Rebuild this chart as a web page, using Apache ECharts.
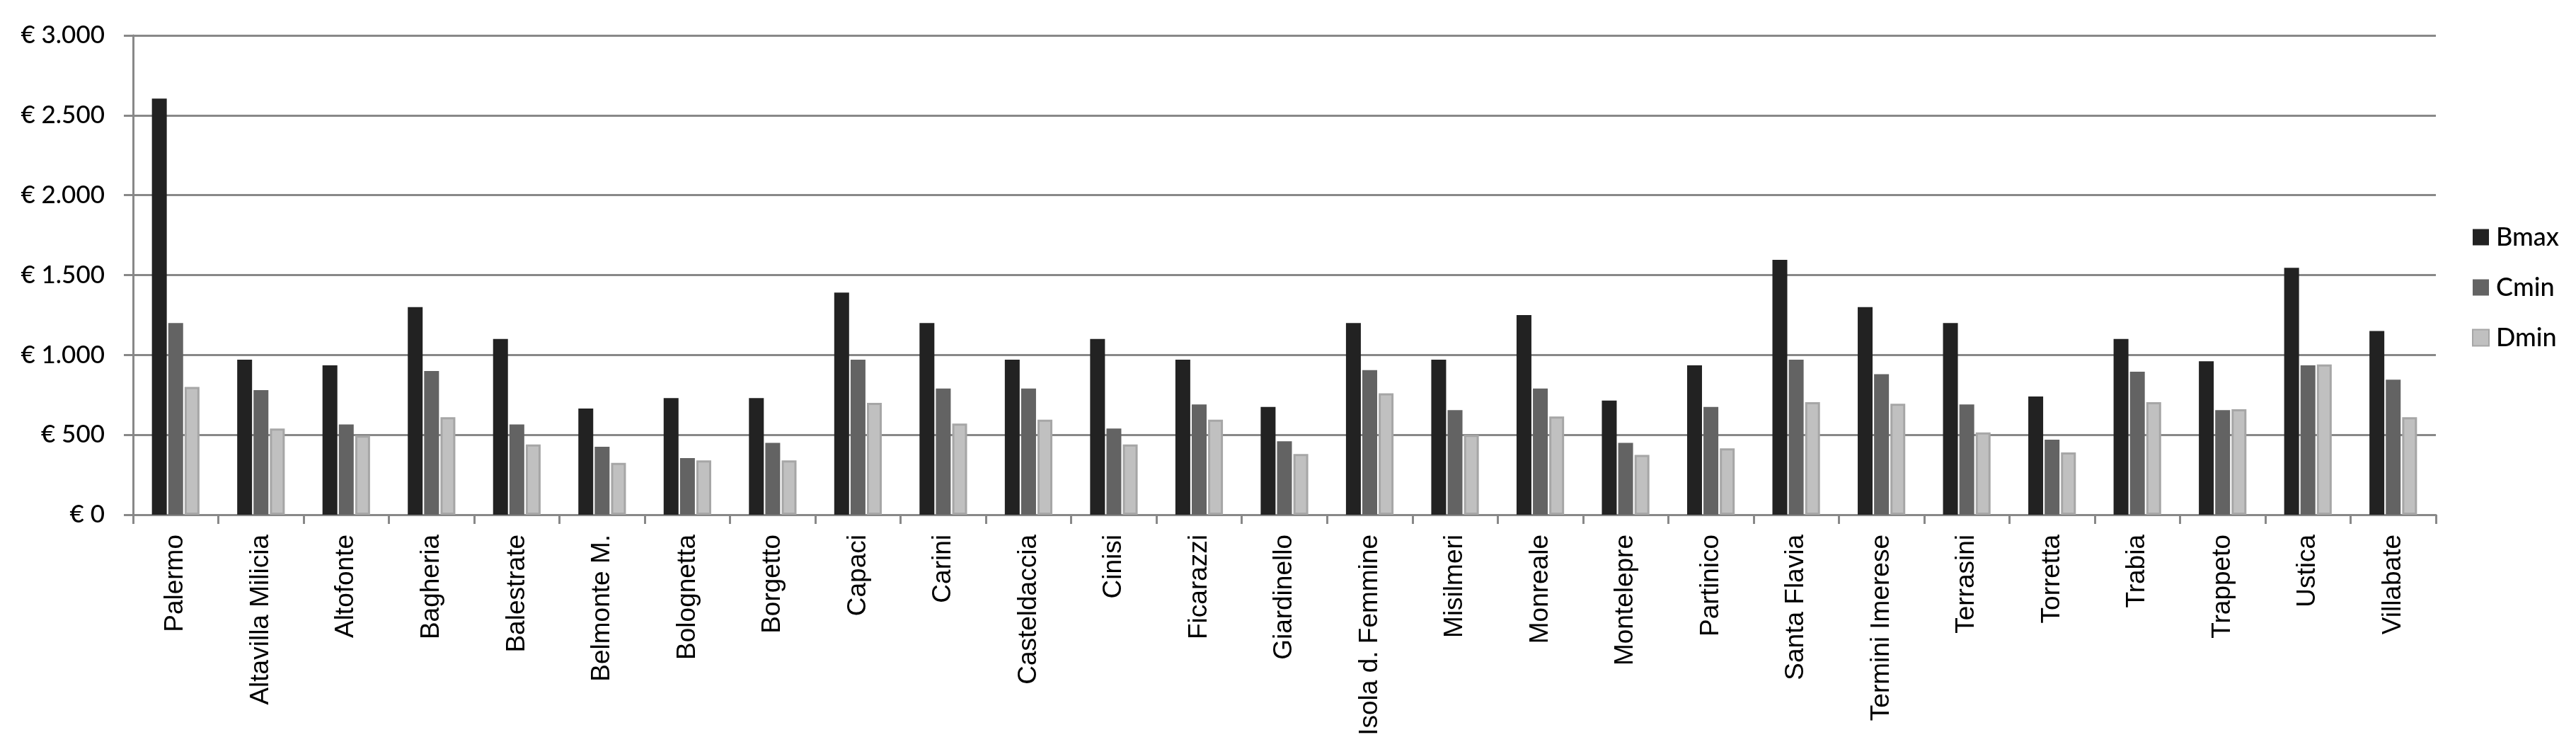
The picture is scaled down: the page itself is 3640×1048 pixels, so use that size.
<!DOCTYPE html>
<html>
<head>
<meta charset="utf-8">
<script src="https://cdn.jsdelivr.net/npm/echarts@6/dist/echarts.min.js"></script>
<style>
html,body{margin:0;padding:0;background:#fff;}
#chart{width:3640px;height:1048px;}
</style>
</head>
<body>
<div id="chart"></div>
<script>
const categories = ['Palermo','Altavilla Milicia','Altofonte','Bagheria','Balestrate','Belmonte M.','Bolognetta','Borgetto','Capaci','Carini','Casteldaccia','Cinisi','Ficarazzi','Giardinello','Isola d. Femmine','Misilmeri','Monreale','Montelepre','Partinico','Santa Flavia','Termini Imerese','Terrasini','Torretta','Trabia','Trappeto','Ustica','Villabate'];
const seriesNames = ['Bmax','Cmin','Dmin'];
const bmax = [2605, 970, 935, 1300, 1100, 665, 730, 730, 1390, 1200, 970, 1100, 970, 675, 1200, 970, 1250, 715, 935, 1595, 1300, 1200, 740, 1100, 960, 1545, 1150];
const cmin = [1200, 780, 565, 900, 565, 425, 355, 450, 970, 790, 790, 540, 690, 460, 905, 655, 790, 450, 675, 970, 880, 690, 470, 895, 655, 935, 845];
const dmin = [800, 540, 495, 610, 440, 325, 340, 340, 700, 570, 595, 440, 595, 380, 760, 500, 615, 375, 415, 705, 695, 515, 390, 705, 660, 940, 610];
const yTicks = [0, 500, 1000, 1500, 2000, 2500, 3000];

function euro(v){
  return '€ ' + String(v).replace(/\B(?=(\d{3})+(?!\d))/g, '.');
}

const chart = echarts.init(document.getElementById('chart'), null, {renderer:'canvas'});
const gridColor = '#888888';
chart.setOption({
  animation: false,
  backgroundColor: '#ffffff',
  grid: {left: 188, right: 198, top: 50, bottom: 321, containLabel: false},
  legend: {
    orient: 'vertical',
    left: 3488,
    top: 310,
    icon: 'rect',
    itemWidth: 23,
    itemHeight: 23,
    itemGap: 31,
    data: seriesNames,
    textStyle: {fontFamily: 'Lato', fontSize: 36, fontWeight: 500, color: '#000', lineHeight: 40, padding: [0,0,0,5]}
  },
  xAxis: {
    type: 'category',
    data: categories,
    boundaryGap: true,
    axisLine: {show: true, lineStyle: {color: gridColor, width: 3}},
    axisTick: {show: true, length: 13, lineStyle: {color: gridColor, width: 3}},
    axisLabel: {rotate: 90, interval: 0, margin: 28, fontFamily: 'Liberation Sans', fontSize: 37, color: '#000'},
    splitLine: {show: false}
  },
  yAxis: {
    type: 'value',
    min: yTicks[0],
    max: yTicks[yTicks.length - 1],
    interval: yTicks[1] - yTicks[0],
    axisLine: {show: true, lineStyle: {color: gridColor, width: 3}},
    axisTick: {show: true, length: 13, lineStyle: {color: gridColor, width: 3}},
    axisLabel: {margin: 40, fontFamily: 'Lato', fontSize: 35, fontWeight: 500, color: '#000', formatter: euro},
    splitLine: {show: true, lineStyle: {color: gridColor, width: 3}}
  },
  series: [
    {name: seriesNames[0], type: 'bar', data: bmax, barWidth: 21, barGap: '10%', itemStyle: {color: '#222222'}},
    {name: seriesNames[1], type: 'bar', data: cmin, barWidth: 21, barGap: '10%', itemStyle: {color: '#636363'}},
    {name: seriesNames[2], type: 'bar', data: dmin, barWidth: 21, barGap: '10%', itemStyle: {color: '#c0c0c0', borderColor: '#a6a6a6', borderWidth: 3}}
  ]
});
</script>
</body>
</html>
